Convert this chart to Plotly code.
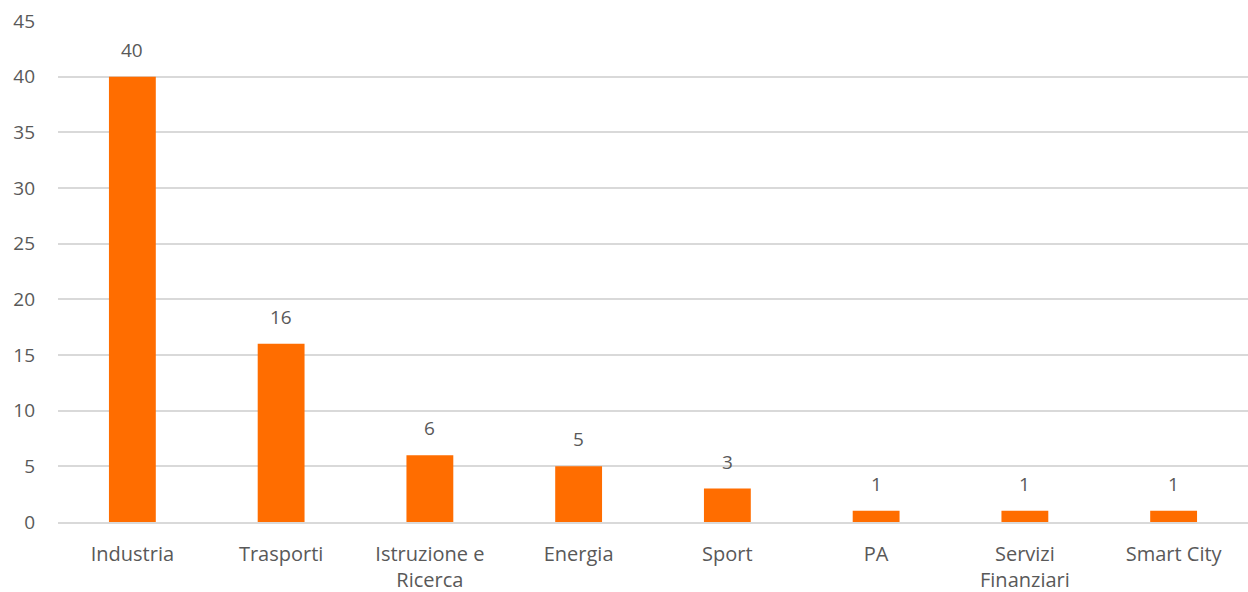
import plotly.graph_objects as go

categories = ["Industria", "Trasporti", "Istruzione e<br>Ricerca", "Energia", "Sport", "PA", "Servizi<br>Finanziari", "Smart City"]
values = [40, 16, 6, 5, 3, 1, 1, 1]
y_ticks = [0, 5, 10, 15, 20, 25, 30, 35, 40, 45]

TEXT = "#595959"
FONT = "Open Sans"
FS = 19

fig = go.Figure(go.Bar(x=categories, y=values, marker=dict(color="#FF6D00", line=dict(width=0)),
                       hoverinfo="x+y"))

for c, v in zip(categories, values):
    fig.add_annotation(x=c, y=v, text=str(v), showarrow=False, yanchor="bottom", yshift=12,
                       font=dict(family=FONT, size=FS, color=TEXT))

fig.update_layout(
    width=1248, height=592,
    margin=dict(l=58, r=0, t=21, b=70),
    paper_bgcolor="white", plot_bgcolor="white",
    bargap=0.685, showlegend=False,
    font=dict(family=FONT, size=FS, color=TEXT),
)
fig.update_xaxes(showgrid=False, showline=True, linecolor="#D9D9D9", linewidth=1.5,
                 ticks="", ticklabelstandoff=13, tickfont=dict(family=FONT, size=20, color=TEXT))
fig.update_yaxes(range=[0, 45], tickvals=y_ticks, showgrid=True, gridcolor="#D9D9D9", gridwidth=1.5,
                 zeroline=False, showline=False, ticks="", ticklabelstandoff=22,
                 tickfont=dict(family=FONT, size=FS, color=TEXT))

fig.write_html("out.html", config={"displayModeBar": False},
               post_script="document.body.style.margin='0';")
